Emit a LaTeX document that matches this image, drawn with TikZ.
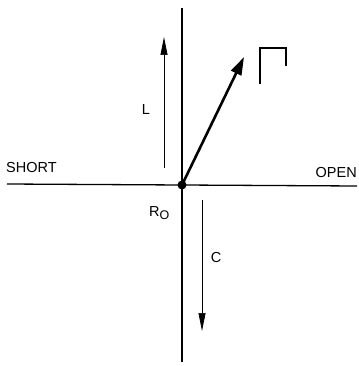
\documentclass[tikz,border=0pt]{standalone}
\usepackage{fontspec}
\setmainfont{Liberation Sans}
\usetikzlibrary{arrows.meta, positioning}

\begin{document}
\begin{tikzpicture}[x=1pt, y=-1pt,
    axis/.style={line width=1.3pt},
    thinarrow/.style={line width=0.7pt, -{Triangle[length=18pt, width=7pt]}},
    boldarrow/.style={line width=2.6pt, -{Triangle[length=18pt, width=11pt]}},
    lbl/.style={font=\fontsize{14.5}{16}\selectfont, inner sep=0pt}]
    \useasboundingbox (0, 0) rectangle (358, 366);

    % Achsen
    \coordinate (O) at (182, 185);
    \coordinate (top) at (182, 8);
    \coordinate (bottom) at (182, 362);
    \coordinate (left) at (7, 184);
    \coordinate (right) at (357, 186);
    \draw[axis] (top) -- (bottom);
    \draw[axis] (left) -- (O) -- (right);

    % L und C
    \coordinate (Lstart) at (164, 168);
    \coordinate (Lend) at (164, 37);
    \draw[thinarrow] (Lstart) -- (Lend);
    \node[lbl] (L) at (146, 110) {L};
    \coordinate (Cstart) at (202, 200);
    \coordinate (Cend) at (202, 331);
    \draw[thinarrow] (Cstart) -- (Cend);
    \node[lbl] (C) at (216, 258) {C};

    % Reflexionsvektor
    \coordinate (G) at (244, 57);
    \draw[boldarrow] (O) -- (G);
    \draw[line width=1.3pt] (260, 84) -- (260, 48) -- (286, 48) -- (286, 66);

    % Punkt im Ursprung
    \fill (O) circle (4.5pt);

    % Beschriftungen
    \node[lbl, anchor=base west] (short) at (6, 172) {SHORT};
    \node[lbl, anchor=base east] (open) at (357, 177) {OPEN};
    \node[lbl, anchor=base west] (R0) at (149, 216) {R\raisebox{-3pt}{\fontsize{12.5}{13}\selectfont O}};
\end{tikzpicture}
\end{document}
